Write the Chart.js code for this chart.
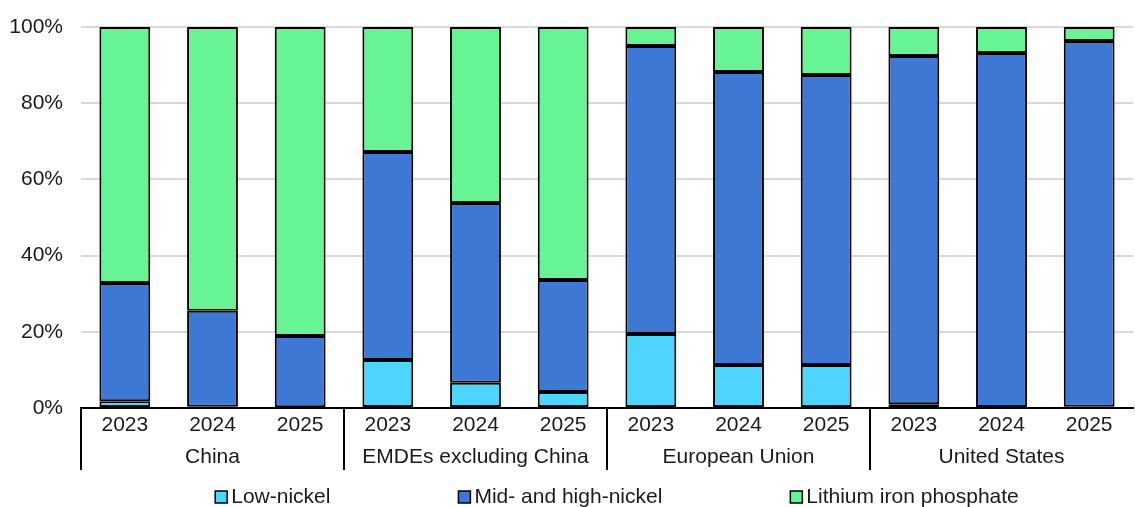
<!DOCTYPE html>
<html>
<head>
<meta charset="utf-8">
<script src="https://cdn.jsdelivr.net/npm/chart.js@4/dist/chart.umd.min.js"></script>
<style>
  html, body { margin: 0; padding: 0; background: #fff; }
  #wrap { width: 1135px; height: 507px; }
</style>
</head>
<body>
<div id="wrap"><canvas id="chart" width="1135" height="507"></canvas></div>
<script>
const years = ["2023", "2024", "2025"];
const regions = ["China", "EMDEs excluding China", "European Union", "United States"];

// shares in %, order: China, EMDEs, EU, US x 2023-2025
const lowNickel = [1.8, 0.3, 0.2, 12.6, 6.6, 4.2, 19.4, 11.3, 11.3, 1.0, 0, 0.3];
const midHighNickel = [31.0, 25.2, 18.7, 54.6, 47.2, 29.4, 75.6, 76.9, 76.1, 91.4, 93.2, 96.0];
const lithiumIronPhosphate = [67.2, 74.5, 81.1, 32.8, 46.2, 66.4, 5.0, 11.8, 12.6, 7.6, 6.8, 3.7];

const seriesNames = ["Low-nickel", "Mid- and high-nickel", "Lithium iron phosphate"];
const seriesColors = ["#4dd5ff", "#3c78d4", "#67f495"];

const labels = regions.flatMap(() => years);
const FONT = "'Liberation Sans', Arial, sans-serif";
const TEXT = "#1a1a1a";
const SIZE = 21;

// region names, separators and legend under the axis
const groupPlugin = {
  id: "groupLabels",
  afterDraw(chart) {
    const ctx = chart.ctx;
    const x = chart.scales.x;
    const area = chart.chartArea;
    ctx.save();
    ctx.strokeStyle = "#000";
    ctx.lineWidth = 2;
    for (let g = 0; g < regions.length; g++) {
      const i = g * years.length;
      const px = i === 0 ? area.left : (x.getPixelForValue(i - 1) + x.getPixelForValue(i)) / 2;
      ctx.beginPath();
      ctx.moveTo(Math.round(px), area.bottom);
      ctx.lineTo(Math.round(px), area.bottom + 62);
      ctx.stroke();
    }
    ctx.font = SIZE + "px " + FONT;
    ctx.fillStyle = TEXT;
    ctx.textAlign = "center";
    ctx.textBaseline = "middle";
    regions.forEach((name, g) => {
      const mid = x.getPixelForValue(g * years.length + 1);
      ctx.fillText(name, mid, area.bottom + 49);
    });
    const box = 12, gapBox = 4, gapItem = 128;
    ctx.textAlign = "left";
    const widths = seriesNames.map((n) => box + gapBox + ctx.measureText(n).width);
    const total = widths.reduce((a, b) => a + b, 0) + gapItem * (widths.length - 1);
    let lx = (area.left + area.right) / 2 + 10 - total / 2;
    const ly = 497;
    seriesNames.forEach((n, i) => {
      ctx.fillStyle = seriesColors[i];
      ctx.fillRect(lx, ly - box / 2, box, box);
      ctx.strokeStyle = "#000";
      ctx.lineWidth = 1.5;
      ctx.strokeRect(lx, ly - box / 2, box, box);
      ctx.fillStyle = TEXT;
      ctx.fillText(n, lx + box + gapBox, ly);
      lx += widths[i] + gapItem;
    });
    ctx.restore();
  },
};

new Chart(document.getElementById("chart"), {
  type: "bar",
  data: {
    labels: labels,
    datasets: [lowNickel, midHighNickel, lithiumIronPhosphate].map((d, i) => ({
      label: seriesNames[i],
      data: d,
      backgroundColor: seriesColors[i],
      borderColor: "#000",
      borderWidth: 2,
      borderSkipped: false,
      categoryPercentage: 1,
      barPercentage: 0.58,
    })),
  },
  options: {
    responsive: false,
    devicePixelRatio: 1,
    animation: false,
    layout: { padding: { top: 27, right: 2, left: 0, bottom: 0 } },
    plugins: { legend: { display: false }, tooltip: { enabled: false } },
    scales: {
      x: {
        stacked: true,
        grid: { display: false, drawTicks: false },
        border: { display: true, color: "#000", width: 2 },
        ticks: { font: { size: SIZE, family: FONT }, color: TEXT, padding: 5, maxRotation: 0 },
        afterFit: (s) => { s.height = 99; s.paddingTop = 0; s.paddingBottom = 0; },
      },
      y: {
        stacked: true,
        min: 0,
        max: 100,
        grid: { color: "#d9d9d9", lineWidth: 2, drawTicks: false },
        border: { display: false },
        ticks: {
          stepSize: 20,
          padding: 18,
          font: { size: SIZE, family: FONT },
          color: TEXT,
          callback: (v) => v + "%",
        },
        afterFit: (s) => { s.width = 81; s.paddingTop = 0; s.paddingBottom = 0; },
      },
    },
  },
  plugins: [groupPlugin],
});
</script>
</body>
</html>
